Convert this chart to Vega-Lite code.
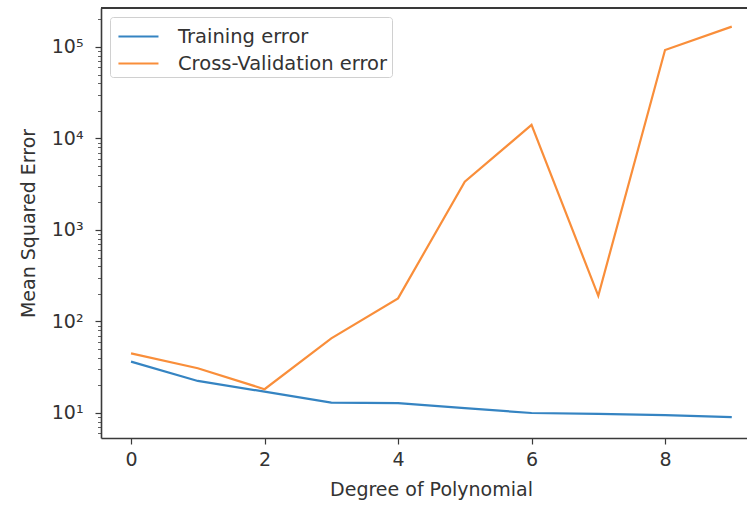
{
  "$schema": "https://vega.github.io/schema/vega-lite/v6.json",
  "autosize": "none",
  "width": 646,
  "height": 430,
  "padding": {"left": 101, "top": 8, "right": 0, "bottom": 67},
  "background": "white",
  "config": {
    "view": {"stroke": null},
    "font": "DejaVu Sans"
  },
  "data": {
    "values": [
      {"degree": 0, "series": "Training error", "mse": 36.4},
      {"degree": 1, "series": "Training error", "mse": 22.4},
      {"degree": 2, "series": "Training error", "mse": 17.1},
      {"degree": 3, "series": "Training error", "mse": 13.0},
      {"degree": 4, "series": "Training error", "mse": 12.8},
      {"degree": 5, "series": "Training error", "mse": 11.3},
      {"degree": 6, "series": "Training error", "mse": 10.0},
      {"degree": 7, "series": "Training error", "mse": 9.8},
      {"degree": 8, "series": "Training error", "mse": 9.5},
      {"degree": 9, "series": "Training error", "mse": 9.0},
      {"degree": 0, "series": "Cross-Validation error", "mse": 44.9},
      {"degree": 1, "series": "Cross-Validation error", "mse": 30.8},
      {"degree": 2, "series": "Cross-Validation error", "mse": 18.2},
      {"degree": 3, "series": "Cross-Validation error", "mse": 65.5},
      {"degree": 4, "series": "Cross-Validation error", "mse": 179},
      {"degree": 5, "series": "Cross-Validation error", "mse": 3370},
      {"degree": 6, "series": "Cross-Validation error", "mse": 14060},
      {"degree": 7, "series": "Cross-Validation error", "mse": 191},
      {"degree": 8, "series": "Cross-Validation error", "mse": 92700},
      {"degree": 9, "series": "Cross-Validation error", "mse": 166800}
    ]
  },
  "layer": [
    {
      "mark": {"type": "rule", "color": "#3a3a3a", "strokeWidth": 1.6},
      "encoding": {
        "y": {"datum": 266700, "scale": {"type": "log"}}
      }
    },
    {
      "mark": {"type": "line", "strokeWidth": 2.2},
      "encoding": {
        "x": {
          "field": "degree",
          "type": "quantitative",
          "title": "Degree of Polynomial",
          "scale": {"domain": [-0.45, 9.228], "nice": false, "zero": false},
          "axis": {
            "values": [0, 2, 4, 6, 8],
            "grid": false,
            "domainColor": "#3a3a3a",
            "domainWidth": 1.6,
            "tickColor": "#3a3a3a",
            "tickSize": 6,
            "tickWidth": 1.2,
            "labelFontSize": 19,
            "labelColor": "#333333",
            "labelPadding": 6,
            "titleFontSize": 19,
            "titleFontWeight": "normal",
            "titleColor": "#333333",
            "titleX": 330,
            "titleY": 51,
            "titleBaseline": "middle"
          }
        },
        "y": {
          "field": "mse",
          "type": "quantitative",
          "title": "Mean Squared Error",
          "scale": {"type": "log", "domain": [5.33, 266700], "nice": false},
          "axis": {
            "values": [6, 7, 8, 9, 10, 20, 30, 40, 50, 60, 70, 80, 90, 100, 200, 300, 400, 500, 600, 700, 800, 900, 1000, 2000, 3000, 4000, 5000, 6000, 7000, 8000, 9000, 10000, 20000, 30000, 40000, 50000, 60000, 70000, 80000, 90000, 100000, 200000],
            "labelExpr": "datum.value==10?'10¹':datum.value==100?'10²':datum.value==1000?'10³':datum.value==10000?'10⁴':datum.value==100000?'10⁵':''",
            "grid": false,
            "domainColor": "#3a3a3a",
            "domainWidth": 1.6,
            "tickColor": "#3a3a3a",
            "tickSize": {"condition": {"test": "indexof([10,100,1000,10000,100000], datum.value) >= 0", "value": 6}, "value": 3.5},
            "tickWidth": {"condition": {"test": "indexof([10,100,1000,10000,100000], datum.value) >= 0", "value": 1.2}, "value": 0.8},
            "labelFontSize": 19,
            "labelColor": "#333333",
            "labelPadding": 12,
            "labelOverlap": false,
            "labelFlush": false,
            "titleFontSize": 19,
            "titleFontWeight": "normal",
            "titleColor": "#333333",
            "titleX": -73,
            "titleY": 215,
            "titleBaseline": "middle"
          }
        },
        "color": {
          "field": "series",
          "type": "nominal",
          "scale": {"domain": ["Training error", "Cross-Validation error"], "range": ["#3584c2", "#f98e3a"]},
          "legend": {
            "title": null,
            "orient": "top-left",
            "offset": 9,
            "fillColor": "white",
            "strokeColor": "#d0d0d0",
            "cornerRadius": 3,
            "padding": 4,
            "symbolType": "M-0.79,0H2.07",
            "symbolSize": 784,
            "symbolStrokeWidth": 2.2,
            "labelFontSize": 19.5,
            "labelColor": "#333333",
            "labelOffset": 33,
            "labelLimit": 0,
            "rowPadding": 2
          }
        }
      }
    }
  ]
}
